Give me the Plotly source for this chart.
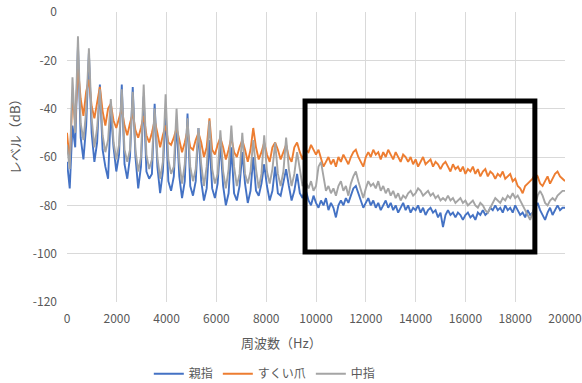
import plotly.graph_objects as go

# Frequency bins (Hz)
freq_low = list(range(0, 9680, 110))      # 88 bins, harmonic region
freq_high = list(range(9700, 20001, 100)) # 104 bins
freq = freq_low + freq_high

# 親指 (blue)
thumb_low = [
    -62, -73, -47, -56,
    -14, -52, -61, -47,
    -17, -50, -62, -54,
    -30, -57, -64, -69,
    -41, -56, -66, -59,
    -30, -63, -69, -60,
    -31, -60, -73, -64,
    -35, -66, -69, -67,
    -38, -64, -75, -66,
    -41, -70, -74, -68,
    -45, -68, -77, -70,
    -42, -72, -76, -70,
    -48, -70, -78, -73,
    -53, -73, -77, -71,
    -54, -72, -80, -75,
    -56, -75, -78, -72,
    -58, -71, -79, -74,
    -60, -74, -76, -71,
    -63, -72, -78, -74,
    -64, -75, -76, -71,
    -65, -72, -78, -74,
    -67, -75, -77, -73,
]
thumb_high = [
    -78, -80, -76, -79, -81, -78, -80, -77, -82, -79,
    -81, -85, -80, -78, -80, -77, -79, -76, -73, -72,
    -75, -78, -81, -79, -77, -80, -78, -81, -79, -82,
    -80, -78, -81, -79, -82, -80, -83, -81, -79, -82,
    -80, -83, -81, -82, -80, -83, -81, -84, -82, -81,
    -83, -82, -85, -83, -89, -84, -82, -84, -83, -85,
    -83, -84, -86, -84, -83, -85, -84, -86, -83, -84,
    -82, -84, -83, -81, -82, -80, -82, -81, -83, -80,
    -82, -81, -83, -80, -82, -84, -83, -85, -82, -84,
    -83, -81, -79, -82, -84, -86, -83, -81, -84, -82,
    -80, -82, -81, -81,
]

# すくい爪 (orange)
scoop_low = [
    -50, -62, -35, -46,
    -23, -36, -43, -33,
    -28, -39, -44, -37,
    -31, -41, -47, -40,
    -38, -45, -48, -44,
    -40, -47, -51, -46,
    -42, -49, -52, -48,
    -43, -51, -54, -50,
    -45, -50, -56, -51,
    -47, -54, -55, -52,
    -48, -53, -58, -54,
    -49, -56, -57, -53,
    -50, -54, -60, -56,
    -44, -57, -59, -55,
    -52, -56, -61, -57,
    -52, -58, -60, -56,
    -53, -57, -62, -57,
    -48, -56, -61, -58,
    -54, -59, -62, -56,
    -54, -57, -61, -58,
    -55, -60, -62, -56,
    -54, -58, -61, -57,
]
scoop_high = [
    -58, -55, -57, -59, -57, -61, -64, -62, -60, -63,
    -61, -64, -60, -62, -59, -61, -63, -60, -58, -57,
    -60, -62, -64, -60, -58, -60, -57, -59, -58, -61,
    -58, -60, -57, -59, -61, -58, -60, -62, -59, -60,
    -62, -60, -63, -61, -64, -62, -60, -63, -62, -61,
    -64, -62, -63, -65, -63, -62, -64, -66, -63, -65,
    -64, -66, -64, -67, -65, -66, -64, -67, -65, -68,
    -66, -65, -68, -66, -67, -69, -67, -68, -66, -69,
    -68, -67, -70, -69, -72, -73, -75, -72, -71, -70,
    -69, -67, -68, -71, -72, -70, -68, -71, -69, -67,
    -66, -68, -69, -70,
]

# 中指 (gray)
middle_low = [
    -55, -65, -27, -50,
    -10, -46, -53, -41,
    -15, -44, -56, -48,
    -32, -51, -58, -53,
    -36, -54, -61, -55,
    -32, -57, -62, -57,
    -33, -57, -66, -60,
    -30, -59, -65, -61,
    -40, -60, -69, -62,
    -34, -61, -67, -64,
    -40, -62, -71, -63,
    -44, -64, -70, -65,
    -48, -63, -72, -64,
    -45, -65, -71, -67,
    -49, -66, -73, -65,
    -47, -64, -72, -67,
    -50, -67, -71, -66,
    -53, -65, -73, -67,
    -51, -66, -71, -65,
    -54, -67, -72, -66,
    -52, -65, -72, -67,
    -58, -66, -72, -70,
]
middle_high = [
    -73, -70, -74, -72, -64, -62, -68, -74, -72, -75,
    -73, -76, -72, -70, -74, -72, -76, -71, -68, -66,
    -70, -74, -77, -73, -70, -72, -71, -73, -70, -74,
    -72, -75, -73, -76, -74, -77, -75, -78, -76, -77,
    -75, -74, -76, -75, -73, -74, -76, -75, -74, -76,
    -75, -77, -76, -78, -77, -78, -76, -78, -77, -79,
    -78, -77, -79, -78, -80, -79, -78, -80, -81, -79,
    -80, -82, -83, -81, -79, -77, -78, -79, -77, -78,
    -76, -77, -75, -77, -76, -78, -80, -82, -84, -86,
    -83, -80, -76, -74, -76, -79, -80, -78, -77, -78,
    -76, -75, -74, -74,
]

series_names = ["親指", "すくい爪", "中指"]
series_colors = ["#4472C4", "#ED7D31", "#A5A5A5"]
series_values = [thumb_low + thumb_high, scoop_low + scoop_high, middle_low + middle_high]

# Axis ticks
x_ticks = [0, 2000, 4000, 6000, 8000, 10000, 12000, 14000, 16000, 18000, 20000]
y_ticks = [0, -20, -40, -60, -80, -100, -120]
y_tick_labels = ["0", "-20", "-40", "-60", "-80", "-100", "-120"]

# Highlight box (Hz, dB)
box_x = [9560, 18790]
box_y = [-99.3, -36.8]

FONT = "Noto Sans CJK JP"
GRAY = "#595959"

fig = go.Figure()
for name, color, vals in zip(series_names, series_colors, series_values):
    fig.add_trace(go.Scatter(x=freq, y=vals, mode="lines", name=name,
                             line=dict(color=color, width=1.9)))

fig.add_shape(type="rect", xref="x", yref="y",
              x0=box_x[0], x1=box_x[1], y0=box_y[0], y1=box_y[1],
              line=dict(color="black", width=5), fillcolor="rgba(0,0,0,0)")

fig.update_layout(
    width=582, height=383,
    margin=dict(l=67, r=17, t=12, b=81, autoexpand=False),
    paper_bgcolor="white", plot_bgcolor="white",
    font=dict(family=FONT, size=12, color=GRAY),
    showlegend=True,
    legend=dict(orientation="h", x=0.455, xref="container", y=0.024, yref="container",
                xanchor="center", yanchor="middle",
                font=dict(size=12, color=GRAY), itemwidth=30, tracegroupgap=0),
    xaxis=dict(range=[0, 20000], tickmode="array", tickvals=x_ticks,
               ticktext=[str(v) for v in x_ticks],
               showgrid=True, gridcolor="#D9D9D9", automargin=False,
               gridwidth=1, zeroline=False, showline=False, ticks="",
               ticklabelstandoff=8, tickfont=dict(size=12, color=GRAY, family=FONT)),
    yaxis=dict(range=[-120, 0], tickmode="array", tickvals=y_ticks, ticktext=y_tick_labels,
               showgrid=True, gridcolor="#D9D9D9", automargin=False,
               gridwidth=1, zeroline=False, showline=False, ticks="",
               ticklabelstandoff=9, tickfont=dict(size=12, color=GRAY, family=FONT)),
    annotations=[
        dict(text="周波数（Hz）", xref="paper", yref="paper", x=0.43, y=-0.138,
             showarrow=False, xanchor="center", yanchor="middle",
             font=dict(size=13, color=GRAY, family=FONT)),
        dict(text="レベル（dB）", xref="paper", yref="paper", x=-0.104, y=0.583,
             showarrow=False, xanchor="center", yanchor="middle", textangle=-90,
             font=dict(size=13, color=GRAY, family=FONT)),
    ],
)

fig.write_html("out.html")
